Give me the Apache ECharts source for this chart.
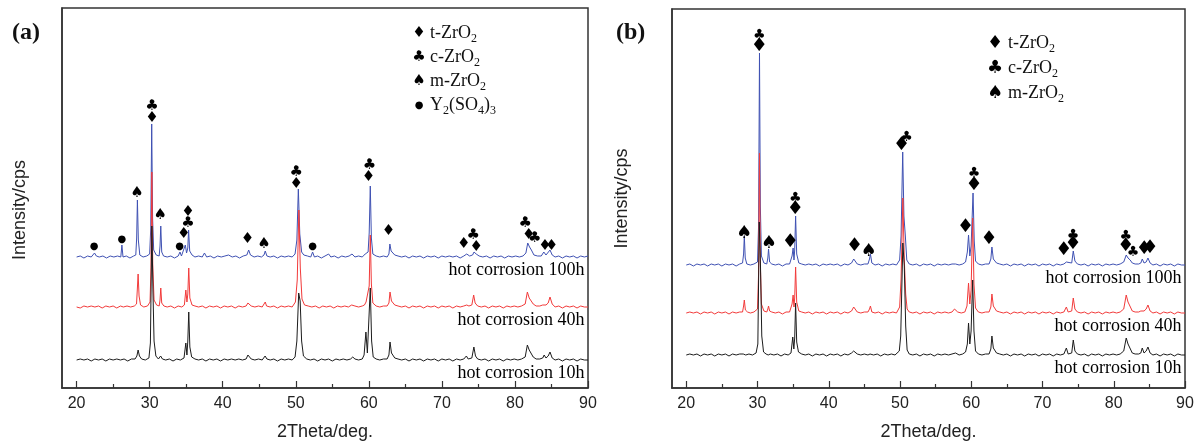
<!DOCTYPE html>
<html><head><meta charset="utf-8">
<script src="https://cdn.jsdelivr.net/npm/echarts@6/dist/echarts.min.js"></script>
<style>html,body{margin:0;padding:0;background:#fff}#c{width:1199px;height:446px}</style>
</head><body><div id="c"></div>
<script>
// ---------- data ----------
const xTicks = [20, 30, 40, 50, 60, 70, 80, 90];
const xMinorTicks = [25, 35, 45, 55, 65, 75, 85];
const seriesNames = ['hot corrosion 100h', 'hot corrosion 40h', 'hot corrosion 10h'];
const seriesColors = ['#3f51b3', '#f23a3a', '#1c1c1c'];
// vertical stacking offsets of each pattern (100h, 40h, 10h)
const offsetsA = [130, 80, 27];
const offsetsB = [122, 74, 32];

// panel (a) patterns: [2theta, intensity above own baseline]
const a100 = [[20,1],[20.5,2],[21,0],[21.5,2],[22,1],[22.25,3],[22.45,5],[22.7,2],[23.1,1],[23.6,2],[24.1,0],[24.6,2],[25.1,1],[25.6,2],[26.05,1],[26.2,13],[26.35,1],[26.8,2],[27.3,0],[27.8,2],[28.1,3],[28.22,20],[28.32,58],[28.45,18],[28.65,3],[29.1,1],[29.6,2],[30.0,4],[30.15,30],[30.28,134],[30.4,40],[30.55,8],[30.9,3],[31.3,2],[31.42,12],[31.52,32],[31.65,6],[31.9,2],[32.4,1],[32.9,2],[33.4,0],[33.9,2],[34.15,6],[34.35,2],[34.6,3],[34.88,13],[35.05,5],[35.22,10],[35.33,28],[35.48,7],[35.8,3],[36.2,1],[36.7,2],[37.2,1],[37.5,5],[37.8,1],[38.3,2],[38.8,0],[39.3,2],[39.8,1],[40.3,2],[40.8,3],[41.3,1],[41.8,2],[42.3,0],[42.8,2],[43.3,3],[43.55,8],[43.8,3],[44.3,1],[44.8,2],[45.3,1],[45.65,3],[45.82,7],[46.05,2],[46.5,1],[47,2],[47.5,0],[48,2],[48.5,1],[49,2],[49.5,1],[49.9,4],[50.15,18],[50.35,69],[50.55,24],[50.8,6],[51.1,3],[51.6,2],[52.05,1],[52.3,6],[52.55,1],[53,2],[53.5,0],[54,2],[54.5,4],[54.8,1],[55.3,2],[55.8,0],[56.3,2],[56.8,1],[57.3,2],[57.7,4],[58.1,1],[58.6,2],[59.1,1],[59.5,4],[59.65,5],[59.9,6],[60.05,25],[60.2,72],[60.35,20],[60.55,4],[61,2],[61.5,1],[62,2],[62.5,1],[62.75,4],[62.88,14],[63.05,7],[63.3,6],[63.55,3],[64,2],[64.5,1],[65,2],[65.5,0],[66,2],[66.5,1],[67,2],[67.5,0],[68,2],[68.5,1],[69,2],[69.5,0],[70,2],[70.5,1],[71,2],[71.5,1],[72,2],[72.5,0],[73,2],[73.4,4],[73.8,2],[74.2,3],[74.4,6],[74.7,4],[75.1,2],[75.6,1],[76.1,2],[76.6,0],[77.1,2],[77.6,1],[78.1,2],[78.6,0],[79.1,2],[79.6,1],[80.1,2],[80.6,1],[81.1,2],[81.5,5],[81.75,15],[82.0,11],[82.25,8],[82.6,3],[83.1,2],[83.6,2],[83.95,6],[84.25,3],[84.5,4],[84.8,8],[85.1,3],[85.5,1],[86,2],[86.5,0],[87,2],[87.5,1],[88,2],[88.5,0],[89,2],[89.5,1],[90,2]];
const a40 = [[20,1],[20.5,0],[21,2],[21.5,1],[22,2],[22.5,1],[23,2],[23.5,0],[24,2],[24.5,1],[25,2],[25.5,0],[26,2],[26.2,4],[26.4,1],[26.9,2],[27.4,1],[27.9,2],[28.2,4],[28.32,20],[28.42,34],[28.55,12],[28.75,3],[29.2,1],[29.7,2],[30.05,6],[30.18,40],[30.3,136],[30.42,44],[30.6,8],[30.95,3],[31.3,2],[31.42,8],[31.52,20],[31.65,5],[31.95,2],[32.4,1],[32.9,2],[33.4,0],[33.9,2],[34.4,1],[34.75,3],[34.95,18],[35.1,6],[35.22,14],[35.35,40],[35.5,10],[35.8,3],[36.2,2],[36.7,1],[37.2,2],[37.7,0],[38.2,2],[38.7,1],[39.2,2],[39.7,0],[40.2,2],[40.7,1],[41.2,2],[41.7,0],[42.2,2],[42.7,1],[43.2,2],[43.45,5],[43.65,5],[43.9,2],[44.4,1],[44.9,2],[45.4,1],[45.65,2],[45.82,6],[46,2],[46.5,1],[47,2],[47.5,0],[48,2],[48.5,1],[49,2],[49.5,1],[49.95,6],[50.2,28],[50.42,98],[50.62,40],[50.85,9],[51.2,3],[51.7,2],[52.2,1],[52.7,2],[53.2,0],[53.7,2],[54.2,1],[54.7,2],[55.2,0],[55.7,2],[56.2,1],[56.7,2],[57.2,1],[57.65,3],[57.8,4],[58.1,2],[58.6,1],[59.1,2],[59.4,3],[59.62,6],[59.85,4],[60.05,22],[60.2,73],[60.35,24],[60.55,5],[61,2],[61.5,1],[62,2],[62.5,2],[62.75,5],[62.9,16],[63.1,7],[63.3,8],[63.55,3],[64,2],[64.5,1],[65,2],[65.5,0],[66,2],[66.5,1],[67,2],[67.5,0],[68,2],[68.5,1],[69,2],[69.5,0],[70,2],[70.5,1],[71,2],[71.5,0],[72,2],[72.5,1],[73,2],[73.4,3],[73.7,2],[74.1,3],[74.35,13],[74.55,5],[74.9,2],[75.4,1],[75.9,2],[76.4,0],[76.9,2],[77.4,1],[77.9,2],[78.4,0],[78.9,2],[79.4,1],[79.9,2],[80.4,1],[80.9,2],[81.4,4],[81.7,16],[81.95,10],[82.2,10],[82.5,4],[82.9,2],[83.4,2],[83.8,3],[84.0,5],[84.25,3],[84.55,5],[84.8,11],[85.1,4],[85.5,1],[86,2],[86.5,0],[87,2],[87.5,1],[88,2],[88.5,0],[89,2],[89.5,1],[90,1]];
const a10 = [[20,1],[20.5,2],[21,1],[21.5,2],[22,0],[22.5,2],[23,1],[23.5,2],[24,0],[24.5,2],[25,1],[25.5,2],[26,1],[26.5,2],[27,0],[27.5,2],[28,2],[28.25,5],[28.42,11],[28.6,5],[28.9,2],[29.4,1],[29.9,3],[30.1,18],[30.3,135],[30.45,70],[30.6,20],[30.85,5],[31.2,2],[31.5,5],[31.75,2],[32.2,1],[32.7,2],[33.2,0],[33.7,2],[34.2,1],[34.7,3],[34.95,18],[35.1,6],[35.22,20],[35.35,49],[35.5,14],[35.75,4],[36.2,2],[36.7,1],[37.2,2],[37.7,0],[38.2,2],[38.7,1],[39.2,2],[39.7,0],[40.2,2],[40.7,1],[41.2,2],[41.7,1],[42.2,2],[42.7,1],[43.2,2],[43.45,6],[43.65,5],[43.9,2],[44.4,1],[44.9,2],[45.4,1],[45.8,5],[46.05,2],[46.5,1],[47,2],[47.5,0],[48,2],[48.5,1],[49,2],[49.5,1],[49.9,4],[50.15,20],[50.4,68],[50.6,60],[50.8,20],[51.05,5],[51.5,2],[52,1],[52.5,2],[53,0],[53.5,2],[54,1],[54.5,2],[55,0],[55.5,2],[56,1],[56.5,2],[57,1],[57.5,2],[57.8,4],[58.1,2],[58.6,1],[59.1,2],[59.35,6],[59.6,29],[59.8,8],[59.95,10],[60.2,73],[60.38,20],[60.6,4],[61,2],[61.5,1],[62,2],[62.5,2],[62.75,6],[62.9,19],[63.1,8],[63.3,8],[63.55,3],[64,2],[64.5,1],[65,2],[65.5,0],[66,2],[66.5,1],[67,2],[67.5,0],[68,2],[68.5,1],[69,2],[69.5,0],[70,2],[70.5,1],[71,2],[71.5,0],[72,2],[72.5,1],[73,2],[73.35,5],[73.6,2],[74.1,3],[74.38,14],[74.6,5],[74.9,2],[75.4,1],[75.9,2],[76.4,0],[76.9,2],[77.4,1],[77.9,2],[78.4,0],[78.9,2],[79.4,1],[79.9,2],[80.4,1],[80.9,2],[81.4,4],[81.7,16],[81.95,11],[82.2,9],[82.5,4],[82.9,2],[83.4,2],[83.8,3],[84.0,6],[84.25,3],[84.55,5],[84.8,9],[85.1,3],[85.5,1],[86,2],[86.5,0],[87,2],[87.5,1],[88,2],[88.5,0],[89,2],[89.5,1],[90,1]];

// panel (b) patterns
const b100 = [[20,1],[20.5,2],[21,0],[21.5,2],[22,1],[22.5,2],[23,0],[23.5,2],[24,1],[24.5,2],[25,0],[25.5,2],[26,1],[26.5,2],[27,0],[27.5,2],[27.9,3],[28.05,12],[28.15,30],[28.28,8],[28.5,2],[29,1],[29.5,2],[30.0,4],[30.15,40],[30.28,213],[30.4,60],[30.55,10],[30.9,3],[31.3,2],[31.45,8],[31.55,17],[31.7,4],[32,2],[32.5,1],[33,2],[33.5,0],[34,2],[34.5,2],[34.85,10],[35.0,18],[35.12,6],[35.22,16],[35.35,50],[35.5,12],[35.8,3],[36.2,2],[36.7,1],[37.2,2],[37.45,4],[37.7,1],[38.2,2],[38.7,0],[39.2,2],[39.7,1],[40.2,2],[40.7,1],[41.2,2],[41.7,0],[42.2,2],[42.7,1],[43.2,3],[43.5,7],[43.7,6],[44,2],[44.5,1],[45,2],[45.5,2],[45.72,7],[45.85,12],[46.05,3],[46.5,1],[47,2],[47.5,0],[48,2],[48.5,1],[49,2],[49.5,1],[49.95,6],[50.15,30],[50.38,114],[50.55,50],[50.75,30],[50.95,6],[51.3,2],[51.8,1],[52.3,2],[52.8,0],[53.3,2],[53.8,1],[54.3,2],[54.8,0],[55.3,2],[55.8,1],[56.3,2],[56.8,1],[57.3,2],[57.8,2],[58.3,1],[58.8,2],[59.2,4],[59.45,14],[59.62,31],[59.8,10],[59.98,20],[60.25,73],[60.42,25],[60.6,5],[61,2],[61.5,1],[62,2],[62.5,2],[62.75,7],[62.9,19],[63.1,7],[63.3,6],[63.55,3],[64,2],[64.5,1],[65,2],[65.5,0],[66,2],[66.5,1],[67,2],[67.5,0],[68,2],[68.5,1],[69,2],[69.5,0],[70,2],[70.5,1],[71,2],[71.5,0],[72,2],[72.5,1],[73,2],[73.35,4],[73.6,2],[74.1,3],[74.32,15],[74.55,5],[74.9,2],[75.4,1],[75.9,2],[76.4,0],[76.9,2],[77.4,1],[77.9,2],[78.4,0],[78.9,2],[79.4,1],[79.9,2],[80.4,1],[80.9,2],[81.4,4],[81.75,11],[82.0,8],[82.3,6],[82.6,3],[83,2],[83.5,2],[83.8,3],[84.0,7],[84.25,3],[84.55,4],[84.8,8],[85.1,3],[85.5,1],[86,2],[86.5,0],[87,2],[87.5,1],[88,2],[88.5,0],[89,2],[89.5,1],[90,1]];
const b40 = [[20,1],[20.5,2],[21,1],[21.5,2],[22,0],[22.5,2],[23,1],[23.5,2],[24,0],[24.5,2],[25,1],[25.5,2],[26,0],[26.5,2],[27,1],[27.5,2],[27.9,2],[28.05,8],[28.15,14],[28.3,4],[28.6,2],[29,1],[29.5,2],[30.0,5],[30.15,40],[30.28,161],[30.4,50],[30.55,10],[30.9,3],[31.3,2],[31.45,5],[31.55,8],[31.7,3],[32,2],[32.5,1],[33,2],[33.5,0],[34,2],[34.5,2],[34.85,10],[35.0,19],[35.12,7],[35.22,16],[35.35,47],[35.5,12],[35.8,3],[36.2,2],[36.7,1],[37.2,2],[37.7,0],[38.2,2],[38.7,1],[39.2,2],[39.7,0],[40.2,2],[40.7,1],[41.2,2],[41.7,0],[42.2,2],[42.7,1],[43.2,3],[43.5,7],[43.7,6],[44,2],[44.5,1],[45,2],[45.5,2],[45.72,5],[45.85,8],[46.05,2],[46.5,1],[47,2],[47.5,0],[48,2],[48.5,1],[49,2],[49.5,1],[49.95,7],[50.15,35],[50.4,116],[50.6,55],[50.8,20],[51.0,5],[51.3,2],[51.8,1],[52.3,2],[52.8,0],[53.3,2],[53.8,1],[54.3,2],[54.8,0],[55.3,2],[55.8,1],[56.3,2],[56.8,1],[57.3,2],[57.65,5],[57.8,6],[58.1,2],[58.6,1],[59.1,2],[59.4,8],[59.62,31],[59.8,10],[59.98,24],[60.2,96],[60.38,30],[60.6,6],[61,2],[61.5,1],[62,2],[62.5,2],[62.75,7],[62.9,20],[63.1,8],[63.3,8],[63.55,3],[64,2],[64.5,1],[65,2],[65.5,0],[66,2],[66.5,1],[67,2],[67.5,0],[68,2],[68.5,1],[69,2],[69.5,0],[70,2],[70.5,1],[71,2],[71.5,0],[72,2],[72.5,1],[73,2],[73.35,7],[73.6,2],[74.1,3],[74.32,16],[74.55,5],[74.9,2],[75.4,1],[75.9,2],[76.4,0],[76.9,2],[77.4,1],[77.9,2],[78.4,0],[78.9,2],[79.4,1],[79.9,2],[80.4,1],[80.9,2],[81.4,5],[81.75,19],[82.0,12],[82.25,10],[82.6,3],[83,2],[83.5,2],[83.8,3],[84.0,5],[84.25,3],[84.55,5],[84.8,9],[85.1,3],[85.5,1],[86,2],[86.5,0],[87,2],[87.5,1],[88,2],[88.5,0],[89,2],[89.5,1],[90,1]];
const b10 = [[20,1],[20.5,2],[21,1],[21.5,2],[22,0],[22.5,2],[23,1],[23.5,2],[24,0],[24.5,2],[25,1],[25.5,2],[26,0],[26.5,2],[27,1],[27.5,2],[28,2],[28.15,3],[28.35,1],[28.8,2],[29.3,1],[29.8,3],[30.05,12],[30.25,134],[30.42,90],[30.6,20],[30.85,4],[31.2,2],[31.5,1],[31.8,2],[32.3,1],[32.8,2],[33.3,0],[33.8,2],[34.3,1],[34.7,3],[34.95,19],[35.1,7],[35.22,18],[35.35,53],[35.5,14],[35.75,4],[36.2,2],[36.7,1],[37.2,2],[37.7,0],[38.2,2],[38.7,1],[39.2,2],[39.7,0],[40.2,2],[40.7,1],[41.2,2],[41.7,0],[42.2,2],[42.7,1],[43.2,3],[43.5,5],[43.7,4],[44,2],[44.5,1],[45,2],[45.5,1],[45.8,2],[46.3,1],[46.8,2],[47.3,0],[47.8,2],[48.3,1],[48.8,2],[49.3,1],[49.9,5],[50.1,20],[50.4,113],[50.6,90],[50.8,30],[51.0,6],[51.3,2],[51.8,1],[52.3,2],[52.8,0],[53.3,2],[53.8,1],[54.3,2],[54.8,0],[55.3,2],[55.8,1],[56.3,2],[56.8,1],[57.3,2],[57.8,3],[58.3,1],[58.8,2],[59.2,4],[59.45,12],[59.62,33],[59.8,12],[59.98,25],[60.2,76],[60.38,25],[60.6,5],[61,2],[61.5,1],[62,2],[62.5,2],[62.75,7],[62.9,20],[63.1,8],[63.3,8],[63.55,3],[64,2],[64.5,1],[65,2],[65.5,0],[66,2],[66.5,1],[67,2],[67.5,0],[68,2],[68.5,1],[69,2],[69.5,0],[70,2],[70.5,1],[71,2],[71.5,0],[72,2],[72.5,1],[73,2],[73.35,8],[73.6,2],[74.1,3],[74.32,16],[74.55,5],[74.9,2],[75.4,1],[75.9,2],[76.4,0],[76.9,2],[77.4,1],[77.9,2],[78.4,0],[78.9,2],[79.4,1],[79.9,2],[80.4,1],[80.9,2],[81.4,5],[81.75,18],[82.0,12],[82.25,10],[82.6,3],[83,2],[83.5,2],[83.8,3],[84.0,8],[84.25,3],[84.55,5],[84.8,9],[85.1,3],[85.5,1],[86,2],[86.5,0],[87,2],[87.5,1],[88,2],[88.5,0],[89,2],[89.5,1],[90,1]];

// peak phase markers: [2theta, height, glyph]
const marksA = [[22.4,142,'●'],[26.2,149,'●'],[28.25,195,'♠'],[30.3,282,'♣'],[30.3,270,'♦'],[31.45,173,'♠'],[34.1,142,'●'],[34.65,154,'♦'],[35.25,165,'♣'],[35.25,176,'♦'],[43.4,149,'♦'],[45.65,144,'♠'],[50.05,216,'♣'],[50.05,204,'♦'],[52.3,142,'●'],[60.1,223,'♣'],[59.95,211,'♦'],[62.7,157,'♦'],[73.0,144,'♦'],[74.3,153,'♣'],[74.7,141,'♦'],[81.4,165,'♣'],[81.9,153,'♦'],[82.7,150,'♣'],[84.1,142,'♦'],[85.0,142,'♦']];
const marksB = [[28.1,155,'♠'],[30.25,353,'♣'],[30.25,342,'♦'],[31.6,145,'♠'],[34.6,146,'♦'],[35.3,190,'♣'],[35.3,179,'♦'],[43.6,142,'♦'],[45.6,137,'♠'],[50.2,243,'♦'],[50.9,251,'♣'],[59.2,161,'♦'],[60.4,215,'♣'],[60.4,203,'♦'],[62.5,149,'♦'],[73.0,138,'♦'],[74.3,153,'♣'],[74.3,144,'♦'],[81.7,152,'♣'],[81.7,142,'♦'],[82.7,136,'♣'],[84.3,139,'♦'],[85.1,140,'♦']];

// legend entries: [glyph, formula with subscripts]
const phasesA = [['♦', '{n|t-ZrO}{s|2}'], ['♣', '{n|c-ZrO}{s|2}'], ['♠', '{n|m-ZrO}{s|2}'], ['●', '{n|Y}{s|2}{n|(SO}{s|4}{n|)}{s|3}']];
const phasesB = [['♦', '{n|t-ZrO}{s|2}'], ['♣', '{n|c-ZrO}{s|2}'], ['♠', '{n|m-ZrO}{s|2}']];
const panelTitles = ['(a)', '(b)'];

// ---------- chart ----------
const SERIF = 'Liberation Serif, Times New Roman, serif';
const SANS = 'Liberation Sans, Arial, sans-serif';
const GLYPH = 'DejaVu Sans';
const chart = echarts.init(document.getElementById('c'), null, {renderer: 'canvas'});

function xAxes(gi) {
  return [{
    type: 'value', gridIndex: gi, min: 18, max: 90,
    axisLine: {show: true, lineStyle: {color: '#333', width: 1.5}},
    axisTick: {show: true, inside: true, length: 7, customValues: xTicks, lineStyle: {color: '#333', width: 1.2}},
    axisLabel: {show: true, customValues: xTicks, fontSize: 16, color: '#222', fontFamily: SANS, margin: 8},
    splitLine: {show: false},
    name: '2Theta/deg.', nameLocation: 'middle', nameGap: 35,
    nameTextStyle: {fontSize: 18, fontFamily: SANS, color: '#222'}
  }, {
    type: 'value', gridIndex: gi, min: 18, max: 90, position: 'bottom',
    axisLine: {show: false},
    axisTick: {show: true, inside: true, length: 4, customValues: xMinorTicks, lineStyle: {color: '#333', width: 1.2}},
    axisLabel: {show: false}, splitLine: {show: false}
  }];
}
function yAxis(gi, max, gap, pad) {
  return {
    type: 'value', gridIndex: gi, min: 0, max: max,
    axisLine: {show: true, lineStyle: {color: '#333', width: 1.5}},
    axisTick: {show: false}, axisLabel: {show: false}, splitLine: {show: false},
    name: 'Intensity/cps', nameLocation: 'middle', nameGap: gap,
    nameTextStyle: {fontSize: 18, fontFamily: SANS, color: '#222', padding: pad}
  };
}

const series = [];
function addPanel(patterns, offsets, marks, xi, yi, glyphSizes) {
  patterns.forEach((pat, i) => {
    series.push({
      type: 'line', name: seriesNames[i], xAxisIndex: xi, yAxisIndex: yi,
      data: pat.map(([x, y]) => [x, y + offsets[i]]),
      showSymbol: false, symbol: 'none', silent: true,
      lineStyle: {color: seriesColors[i], width: 1}, z: 2 + i
    });
  });
  series.push({
    type: 'scatter', xAxisIndex: xi, yAxisIndex: yi, silent: true, z: 10,
    symbol: 'rect', symbolSize: 1, itemStyle: {color: 'rgba(0,0,0,0)'},
    data: seriesNames.map((n, i) => ({value: [90, offsets[i]], name: n})),
    label: {show: true, position: 'left', distance: 3, offset: [0, 12], formatter: p => p.name,
      fontFamily: SERIF, fontSize: 18, color: '#000', opacity: 1}
  });
  series.push({
    type: 'scatter', xAxisIndex: xi, yAxisIndex: yi, silent: true, z: 10,
    symbol: 'rect', symbolSize: 1, itemStyle: {color: 'rgba(0,0,0,0)'},
    data: marks.map(([x, y, g]) => ({value: [x, y], glyph: g, label: {fontSize: glyphSizes[g]}})),
    label: {show: true, position: 'inside', formatter: p => p.data.glyph,
      fontFamily: GLYPH, color: '#000', opacity: 1}
  });
}
addPanel([a100, a40, a10], offsetsA, marksA, 0, 0, {'♦': 15, '♣': 15, '♠': 15, '●': 10});
addPanel([b100, b40, b10], offsetsB, marksB, 2, 1, {'♦': 19, '♣': 14, '♠': 18, '●': 10});

function legendGraphics(phases, gx, tx, y0, dy, gsize) {
  const out = [];
  phases.forEach(([g, txt], i) => {
    out.push({type: 'text', x: gx, y: y0 + i * dy, silent: true,
      style: {text: g, fontFamily: GLYPH, fontSize: g === '●' ? 10 : gsize, fill: '#000', align: 'center', verticalAlign: 'middle'}});
    out.push({type: 'text', x: tx, y: y0 + i * dy, silent: true,
      style: {text: txt, align: 'left', verticalAlign: 'middle', fill: '#111',
        rich: {n: {fontFamily: SERIF, fontSize: 18, fill: '#111'},
               s: {fontFamily: SERIF, fontSize: 12, fill: '#111', padding: [12, 0, 0, 0]}}}});
  });
  return out;
}

const option = {
  animation: false,
  backgroundColor: '#fff',
  title: [
    {text: panelTitles[0], left: 12, top: 21, padding: 0, textStyle: {fontFamily: SERIF, fontWeight: 'bold', fontSize: 24, color: '#111'}},
    {text: panelTitles[1], left: 616, top: 21, padding: 0, textStyle: {fontFamily: SERIF, fontWeight: 'bold', fontSize: 24, color: '#111'}}
  ],
  grid: [
    {left: 62, right: 611, top: 8, bottom: 58, show: true, borderColor: '#333', borderWidth: 1.5, containLabel: false},
    {left: 672, right: 14, top: 9, bottom: 58, show: true, borderColor: '#333', borderWidth: 1.5, containLabel: false}
  ],
  xAxis: [...xAxes(0), ...xAxes(1)],
  yAxis: [yAxis(0, 380, 33, [0, 24, 0, 0]), yAxis(1, 379, 41, 0)],
  series: series,
  graphic: [
    ...legendGraphics(phasesA, 419, 430, 33, 24, 15),
    ...legendGraphics(phasesB, 995, 1008, 43, 25, 18)
  ]
};
chart.setOption(option);
</script>
</body></html>
